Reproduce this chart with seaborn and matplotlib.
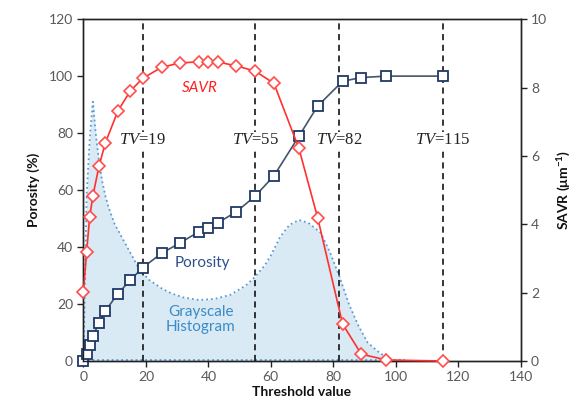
import matplotlib
matplotlib.use("Agg")
import matplotlib.pyplot as plt
import seaborn as sns
import pandas as pd

# ---- data ----
threshold = [0, 1, 2, 3, 5, 7, 11, 15, 19, 25, 31, 37, 40, 43, 49, 55, 61, 69, 75, 83, 89, 97, 115]
porosity = [0, 2.5, 5.6, 8.8, 13.4, 17.6, 23.6, 28.4, 32.8, 37.8, 41.5, 45.4, 46.8, 48.5,
            52.4, 57.9, 65.0, 78.9, 89.5, 98.2, 99.5, 100, 100]
savr = [2.03, 3.2, 4.22, 4.83, 5.71, 6.38, 7.31, 7.9, 8.27, 8.59, 8.72, 8.75, 8.75, 8.75,
        8.63, 8.48, 8.12, 6.22, 4.19, 1.08, 0.2, 0.03, 0.0]

hist_x = [0, 1, 2, 3, 4, 5, 6, 7, 8, 10, 12, 15, 18, 21, 25, 28, 32, 37, 42, 47, 52, 55,
          58, 60, 63, 66, 69, 72, 76, 79, 82, 85, 88, 91, 95, 99, 103]
hist_y = [0, 58, 78, 91, 79, 70, 63, 58, 54, 48, 44, 38, 32, 28.5, 25.5, 23.8, 22.3, 21.4,
          21.8, 23.2, 26.5, 29.6, 33.5, 37, 43.6, 47.8, 49.5, 48.5, 45, 38, 29.6, 20, 12.5,
          6.5, 2.7, 0.3, 0]

tv_values = [19, 55, 82, 115]
x_ticks = [0, 20, 40, 60, 80, 100, 120, 140]
y_ticks = [0, 20, 40, 60, 80, 100, 120]
y2_ticks = [0, 2, 4, 6, 8, 10]

df = pd.DataFrame({"threshold": threshold, "porosity": porosity, "savr": savr})
hist_df = pd.DataFrame({"x": hist_x, "y": hist_y})

sns.set_theme(style="white")
plt.rcParams["font.family"] = ["Lato", "DejaVu Sans"]
plt.rcParams["mathtext.fontset"] = "custom"
plt.rcParams["mathtext.it"] = "Liberation Serif:italic"
plt.rcParams["mathtext.rm"] = "Liberation Serif"

fig = plt.figure(figsize=(5.81, 4.16), dpi=100)
ax = fig.add_axes([0.1437, 0.1322, 0.7523, 0.8218])

# histogram (area)
ax.fill_between(hist_df["x"], hist_df["y"], 0, color="#d9eaf4", zorder=1, linewidth=0)
sns.lineplot(data=hist_df, x="x", y="y", ax=ax, color="#5b9bd5", linestyle=":",
             linewidth=1.3, sort=False, zorder=2)
ax.plot([0, 103], [0.3, 0.3], color="#5b9bd5", linestyle=":", linewidth=1.3, zorder=2)

# TV lines
for tv in tv_values:
    ax.axvline(tv, ymin=0, ymax=1, color="black", linestyle=(0, (4, 3)), linewidth=1.1, zorder=3)
    ax.text(tv, 77.5, r"$\mathit{TV}$=" + str(tv), ha="center", va="center",
            fontsize=12, family="Liberation Serif", color="#222222", zorder=4,
            bbox=dict(facecolor="white", edgecolor="none", pad=0.3))

# porosity
sns.lineplot(data=df, x="threshold", y="porosity", ax=ax, color="#44546a", linewidth=1.2,
             marker="s", markersize=7, markerfacecolor="white", markeredgecolor="#1f3864",
             markeredgewidth=1.3, zorder=5, clip_on=False)

ax.set_xlim(0, 140)
ax.set_ylim(0, 120)
ax.set_xticks(x_ticks)
ax.set_yticks(y_ticks)
ax.set_xlabel("Threshold value", fontsize=10, fontweight="bold", labelpad=2)
ax.set_ylabel("Porosity (%)", fontsize=10, fontweight="bold", labelpad=6)

ax.text(38, 34.5, "Porosity", color="#2f4f8f", fontsize=11, ha="center", va="center", zorder=6)
ax.text(37.5, 14.5, "Grayscale\nHistogram", color="#3a8cc8", fontsize=11, ha="center",
        va="center", linespacing=1.1, zorder=6)

# SAVR on twin axis
ax2 = ax.twinx()
sns.lineplot(data=df, x="threshold", y="savr", ax=ax2, color="#ff3030", linewidth=1.2,
             marker="D", markersize=6, markerfacecolor="white", markeredgecolor="#ff4d4d",
             markeredgewidth=1.2, zorder=5, clip_on=False)
ax2.set_ylim(0, 10)
ax2.set_yticks(y2_ticks)
ax2.set_ylabel("SAVR (μm$^{\\mathregular{-1}}$)", fontsize=10, fontweight="bold", labelpad=6)
ax2.text(37.3, 8.0, "SAVR", color="#ff2020", fontsize=11, style="italic", ha="center", va="center")

for a in (ax, ax2):
    for s in a.spines.values():
        s.set_color("#222222")
        s.set_linewidth(1.0)
    a.tick_params(axis="both", colors="#222222", labelcolor="#595959", labelsize=10,
                  direction="out", length=4, width=1)
ax.tick_params(top=False, bottom=True, left=True)
ax2.tick_params(right=True)
ax.xaxis.label.set_color("#111111")
ax.yaxis.label.set_color("#111111")
ax2.yaxis.label.set_color("#111111")

fig.savefig("out.png", dpi=100)
